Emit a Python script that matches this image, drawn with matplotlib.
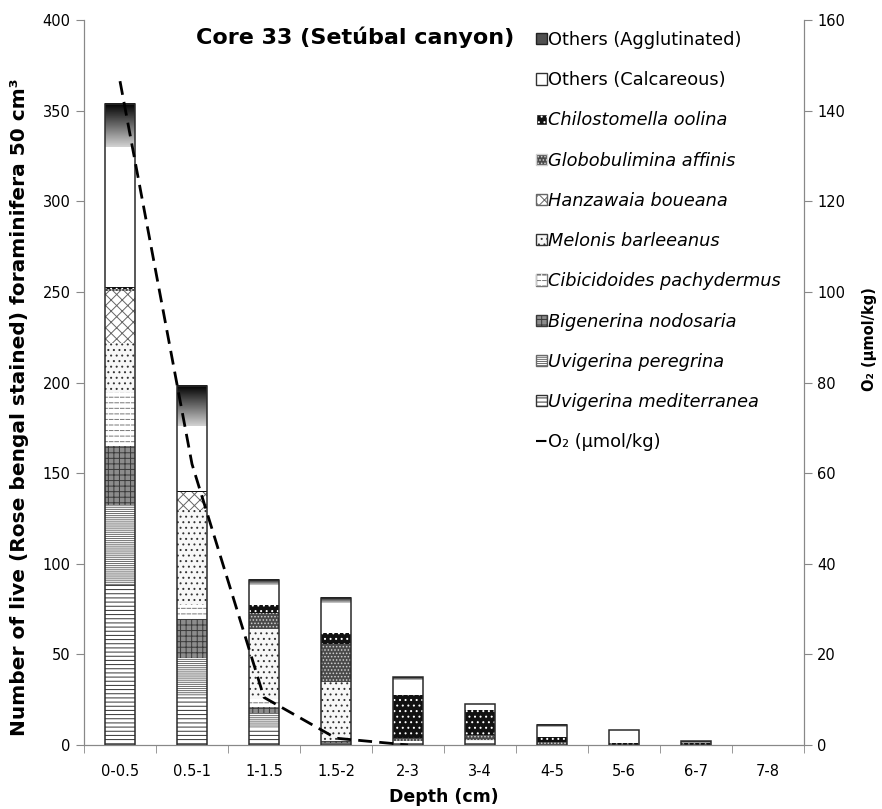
import matplotlib
matplotlib.use("Agg")
import matplotlib.pyplot as plt
import numpy as np
from matplotlib.patches import Patch
from matplotlib.lines import Line2D

plt.rcParams['font.family'] = ['DejaVu Sans']
plt.rcParams['hatch.linewidth'] = 0.7

# depth intervals
categories = ['0-0.5', '0.5-1', '1-1.5', '1.5-2', '2-3', '3-4', '4-5', '5-6', '6-7', '7-8']

# counts per species (stack order, bottom -> top)
u_mediterranea = [88.4, 26.9, 9.2, 1.2, 2.0, 2.8, 0.5, 0, 0, 0]
u_peregrina    = [44.1, 21.2, 8.3, 0, 0, 0, 0, 0, 0, 0]
bigenerina     = [32.2, 21.6, 3.3, 1.2, 0, 0, 0, 0, 0, 0]
cibicidoides   = [29.8, 7.7, 4.4, 0, 0, 0, 0, 0, 0, 0]
melonis        = [27.5, 52.0, 38.6, 32.2, 0, 0, 0, 0, 0, 0]
hanzawaia      = [28.4, 10.0, 0, 0, 0, 0, 0, 0, 0, 0]
globobulimina  = [1.2, 0, 8.8, 20.9, 1.8, 2.8, 1.0, 0, 0, 0]
chilostomella  = [1.2, 1.0, 4.6, 6.1, 23.6, 13.8, 3.0, 1.3, 1.2, 0]
others_calc    = [77.0, 35.8, 10.9, 16.6, 8.5, 3.1, 5.2, 7.0, 0, 0]
others_aggl    = [23.9, 22.1, 2.8, 3.1, 1.6, 0, 1.3, 0, 1.0, 0]

# oxygen profile (right axis)
o2_depths = ['0-0.5', '0.5-1', '1-1.5', '1.5-2', '2-3']
o2_values = [146.5, 62.0, 10.5, 1.5, 0.0]

# (label, data, facecolor, hatch colour, hatch, overlay hatch)
series = [
    ('Uvigerina mediterranea', u_mediterranea, 'white', '#333333', '----', None),
    ('Uvigerina peregrina', u_peregrina, 'white', '#6a6a6a', '--------', None),
    ('Bigenerina nodosaria', bigenerina, '#8c8c8c', '#3a3a3a', '+++', None),
    ('Cibicidoides pachydermus', cibicidoides, 'white', '#777777', '---', '|||'),
    ('Melonis barleeanus', melonis, '#f7f7f7', '#333333', '...', None),
    ('Hanzawaia boueana', hanzawaia, 'white', '#666666', 'xxx', None),
    ('Globobulimina affinis', globobulimina, '#4a4a4a', '#d0d0d0', '.....', None),
    ('Chilostomella oolina', chilostomella, '#111111', '#ffffff', '...', None),
    ('Others (Calcareous)', others_calc, 'white', '#333333', '', None),
]

fig = plt.figure(figsize=(8.82, 8.09), dpi=100)
ax = fig.add_axes([84/882, 64/809, 720/882, 725/809])
ax2 = ax.twinx()

x = np.arange(len(categories))
width = 0.41
bottom = np.zeros(len(categories))
handles = []
for label, vals, fc, hc, hatch, over in series:
    vals = np.array(vals, dtype=float)
    ax.bar(x, vals, width, bottom=bottom, color=fc, edgecolor=hc,
           hatch=hatch, linewidth=0)
    h = Patch(facecolor=fc, edgecolor=hc, hatch=hatch, label=label)
    if over:
        # white vertical hatch cuts the lines into short dashes
        ax.bar(x, vals, width, bottom=bottom, fill=False, edgecolor='white',
               hatch=over, linewidth=0)
        h = (h, Patch(fill=False, edgecolor='white', hatch=over, linewidth=0))
    bottom += vals
    handles.append((h, label))

# agglutinated: vertical grey gradient, dark at the top
grad = np.linspace(0.82, 0.0, 64).reshape(-1, 1)
for xi, b, h in zip(x, bottom, others_aggl):
    if h > 0:
        ax.imshow(grad, extent=(xi - width/2, xi + width/2, b, b + h),
                  origin='lower', aspect='auto', cmap='gray', vmin=0, vmax=1,
                  zorder=2)
totals = bottom + np.array(others_aggl)
handles.append((Patch(facecolor='#505050', edgecolor='#222222'), 'Others (Agglutinated)'))

# bar outlines
for xi, t in zip(x, totals):
    if t > 0:
        ax.bar(xi, t, width, fill=False, edgecolor='#2a2a2a', linewidth=1.1, zorder=3)

o2_x = [categories.index(c) for c in o2_depths]
ax2.plot(o2_x, o2_values, color='black', linestyle=(0, (5, 2.6)), linewidth=2)

ax.set_xlim(-0.5, len(categories) - 0.5)
ax.set_ylim(0, 400)
ax2.set_ylim(0, 160)
ax.set_yticks(np.arange(0, 401, 50))
ax2.set_yticks(np.arange(0, 161, 20))
ax.set_xticks(x)
ax.set_xticklabels(categories)
ax.set_xticks(np.arange(-0.5, len(categories), 1), minor=True)
ax.tick_params(axis='x', which='major', length=0, labelsize=10.5, pad=14)
ax.tick_params(axis='x', which='minor', length=6, color='#888888', direction='out')
ax.tick_params(axis='y', length=6, color='#888888', labelsize=10.5)
ax2.tick_params(axis='y', length=6, color='#888888', labelsize=10.5)

for a in (ax, ax2):
    a.spines['top'].set_visible(False)
    for s in ('left', 'right', 'bottom'):
        a.spines[s].set_color('#888888')

ax.set_xlabel('Depth (cm)', fontsize=12.5, fontweight='bold', labelpad=6)
ax.set_ylabel('Number of live (Rose bengal stained) foraminifera 50 cm³',
              fontsize=14.5, fontweight='bold')
ax.yaxis.set_label_coords(-0.076, 0.4655)
ax2.set_ylabel('O₂ (µmol/kg)', fontsize=10.5, fontweight='bold')
ax2.yaxis.set_label_coords(1.08, 0.56)

ax.text(0.155, 0.9766, 'Core 33 (Setúbal canyon)', transform=ax.transAxes,
        fontsize=16, fontweight='bold', va='center', ha='left')

# legend: top to bottom reversed stack, then O2
handles = handles[::-1]
leg_handles = [h for h, _ in handles] + [Line2D([], [], color='black',
                                                linestyle=(0, (5, 2.6)), linewidth=1.5)]
leg_labels = [l for _, l in handles] + ['O₂ (µmol/kg)']
leg = fig.legend(leg_handles, leg_labels, loc='upper left',
                 bbox_to_anchor=(536/882, 1 - 31/809), frameon=False,
                 fontsize=12.8, handlelength=0.6, handleheight=0.6,
                 handletextpad=0.1, labelspacing=1.25, borderpad=0, borderaxespad=0)
for t in leg.get_texts():
    name = t.get_text()
    if not name.startswith('Others') and not name.startswith('O₂'):
        t.set_fontstyle('italic')

fig.savefig('out.png', dpi=100)
